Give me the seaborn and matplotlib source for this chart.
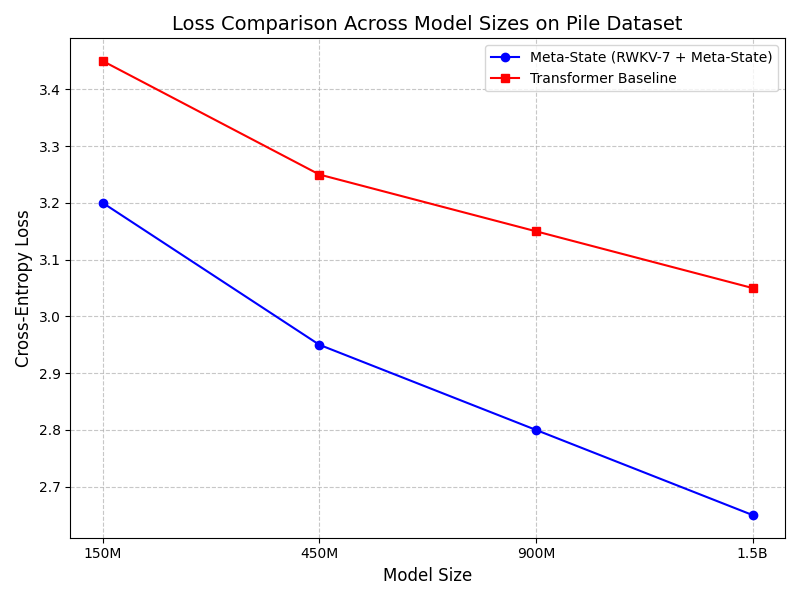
import pandas as pd
import matplotlib
matplotlib.use("Agg")
import matplotlib.pyplot as plt
import seaborn as sns

model_sizes = ["150M", "450M", "900M", "1.5B"]
meta_state_loss = [3.20, 2.95, 2.80, 2.65]
transformer_loss = [3.45, 3.25, 3.15, 3.05]

df = pd.DataFrame({
    "size": model_sizes * 2,
    "loss": meta_state_loss + transformer_loss,
    "model": ["Meta-State (RWKV-7 + Meta-State)"] * 4 + ["Transformer Baseline"] * 4,
})

fig, ax = plt.subplots(figsize=(8, 6), dpi=100)
sns.lineplot(data=df, x="size", y="loss", hue="model", style="model",
             markers=["o", "s"], dashes=False, sort=False,
             palette=["blue", "red"], markersize=6, ax=ax)

# match marker edges to the line colour, like plain matplotlib
for line in ax.lines:
    line.set_markeredgecolor(line.get_color())
    line.set_markeredgewidth(1.0)

ax.set_xlabel("Model Size", fontsize=12)
ax.set_ylabel("Cross-Entropy Loss", fontsize=12)
ax.set_title("Loss Comparison Across Model Sizes on Pile Dataset", fontsize=14)
ax.grid(True, linestyle="--", alpha=0.7)
leg = ax.legend(loc="upper right")
for line in leg.get_lines():
    line.set_markeredgecolor(line.get_color())
    line.set_markeredgewidth(1.0)

plt.tight_layout()
plt.savefig("out.png")
